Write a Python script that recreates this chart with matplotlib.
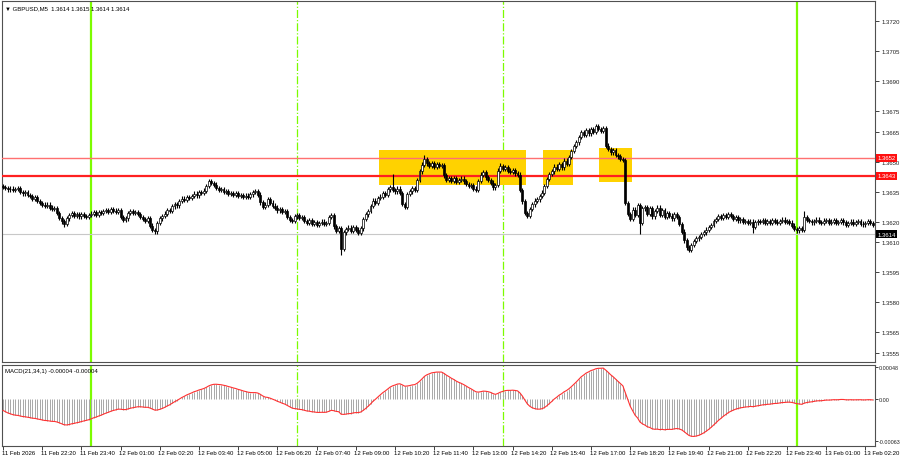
import numpy as np
import pandas as pd
import matplotlib
matplotlib.use("Agg")
import matplotlib.pyplot as plt
from matplotlib.patches import Rectangle
from datetime import datetime, timedelta

# ---------------- data ----------------
symbol_header = "\u25BC GBPUSD,M5  1.3614 1.3615 1.3614 1.3614"
macd_header = "MACD(21,34,1) -0.00004 -0.00004"
start_time = datetime(2026, 2, 11, 21, 0)
bar_minutes = 5
base_price = 1.3600
pip = 0.0001
first_open_pips = 37.8

# closes, in pips above 1.3600, one per 5-minute bar
closes_pips = [
    37.4, 36.9, 36.2, 36.6, 36.0, 36.4, 36.9,
    35.0, 34.2, 34.8, 33.5, 32.8,
    31.6, 32.2, 30.5, 29.4,
    28.6, 28.0, 28.7, 27.2, 26.4, 26.9,
    24.5, 22.0, 20.3, 19.2,
    21.8, 23.5, 24.6, 22.9, 23.8,
    22.8, 23.9, 23.0, 22.6, 23.4,
    24.2, 24.9, 23.6, 25.1, 24.5, 25.6,
    26.0, 25.2, 26.4, 25.7, 25.1, 25.9,
    22.4, 21.0, 21.8,
    24.6, 25.3, 24.4, 25.0, 24.1,
    22.6, 21.4, 20.5, 21.9,
    18.2, 16.0, 15.3,
    19.5, 21.8, 22.9, 24.2,
    26.1, 25.4, 27.8, 29.0, 28.3,
    30.4, 31.6, 30.9, 32.5, 31.8, 32.9,
    34.1, 33.2, 35.0, 34.4, 35.6,
    38.0, 40.2, 39.3, 38.6,
    37.0, 35.8, 36.4, 34.9, 35.3, 33.8, 34.5,
    33.6, 34.2, 32.8, 33.5, 32.4, 33.1, 32.6, 33.7,
    34.8, 35.4, 33.6,
    29.8, 27.4, 28.6,
    31.5, 29.6, 28.2,
    27.2, 25.8, 26.4, 24.9, 25.3,
    22.4, 21.0, 20.6,
    22.8, 23.5, 21.9, 22.6,
    20.4, 19.6, 20.9, 19.0, 19.8, 18.6, 19.4, 20.2, 18.9, 19.6,
    22.5, 23.4,
    17.8, 15.6, 16.8,
    6.5,
    14.8, 16.4, 17.2,
    15.4, 17.6, 16.2, 14.6, 16.8,
    21.5, 23.8,
    25.6, 27.9, 30.6, 29.4, 31.8, 32.6,
    34.4, 33.6, 36.2, 37.4,
    36.0,
    35.2, 36.6, 34.4,
    29.0, 27.6,
    33.8, 35.2, 36.8, 35.9,
    41.0, 45.2,
    48.6, 51.4, 49.2,
    48.0, 49.4, 47.6, 48.8, 47.9, 48.5,
    43.2, 41.0,
    42.0, 40.6, 41.8, 39.8, 40.9, 41.6, 40.2,
    39.0, 37.8, 38.4, 36.6, 36.0,
    40.4, 43.6, 44.8, 42.2,
    41.0, 39.6, 37.2, 38.4,
    45.6, 47.8,
    46.6, 47.2, 45.6, 44.8, 45.9, 44.2, 43.6,
    36.0, 30.2, 24.4,
    23.0, 26.4,
    28.8, 30.6, 31.2, 32.9, 34.6,
    37.8, 41.5, 43.8,
    45.2, 47.6, 46.4, 48.8, 47.2, 50.6, 49.0, 52.4,
    55.2, 57.8, 59.6,
    62.4, 64.8, 63.2, 65.6, 64.1, 66.4, 65.0, 67.6, 66.2, 65.4, 66.8,
    58.0, 56.4, 54.6, 55.8, 53.2, 52.6, 51.4, 50.8,
    29.5,
    24.0, 21.5, 26.2, 23.4,
    28.4, 19.5, 26.8,
    27.6, 24.2, 26.9, 22.8, 25.4, 27.2, 23.6, 25.8, 22.4, 24.6, 23.2, 21.8, 23.9, 22.4,
    19.0, 15.2, 10.8, 7.4, 6.2,
    8.6, 10.4, 11.8, 12.6, 13.9, 14.8,
    16.2, 17.4, 18.6,
    20.4, 21.6, 22.8, 21.9, 23.4, 22.6, 23.8, 22.9, 21.6, 22.4,
    20.8, 21.4, 19.9, 20.6, 19.4, 20.2,
    17.6,
    19.8, 20.6, 20.1, 21.0, 19.6, 20.4, 19.4, 20.8, 20.2, 19.5, 20.6, 21.2, 19.9, 20.4, 19.7,
    18.2, 16.6, 15.8, 16.9, 16.2,
    22.5,
    21.0, 20.4, 19.8, 20.6, 21.2, 20.0, 19.4, 20.7, 21.0, 19.6, 20.2, 20.8, 19.5, 20.1,
    20.9, 19.8, 18.6, 19.4, 20.2, 19.1, 19.9, 20.4, 19.2, 18.8, 19.6, 20.3, 19.5, 18.6,
]
# visible long wicks: bar index -> (high pips or None, low pips or None)
wick_extremes = {
    25: (None, 17.5), 62: (None, 14.0), 84: (41.5, None), 138: (None, 3.8),
    159: (43.8, None), 172: (53.3, None), 203: (49.5, None), 242: (69.0, None),
    260: (None, 14.0), 280: (None, 5.0), 306: (None, 14.5), 327: (25.5, None),
}
default_wick_pips = 1.1
# state of the EMA(21) / EMA(34) before the first visible bar (pips above first close)
ema_seed_pips = {21: 9.0, 34: 10.5}

levels_light = [1.3652]
levels_strong = [1.3643]
bid_price = 1.3614
zones = [  # (start, end, low, high)
    ("2026-02-12 09:47", "2026-02-12 14:47", 1.36384, 1.36558),
    ("2026-02-12 15:22", "2026-02-12 16:23", 1.36384, 1.36558),
    ("2026-02-12 17:16", "2026-02-12 18:24", 1.36398, 1.36568),
]
day_lines = ["2026-02-12 00:00", "2026-02-13 00:00"]
session_lines = ["2026-02-12 07:00", "2026-02-12 14:00"]
price_ticks = [1.3720, 1.3705, 1.3690, 1.3675, 1.3665, 1.3650, 1.3635,
               1.3620, 1.3610, 1.3595, 1.3580, 1.3565, 1.3555]
macd_ticks = [0.00048, 0.0, -0.00063]
macd_tick_labels = ["0.00048", "0.00", "-0.00063"]
label_every_bars = 16

# ---------------- derived ----------------
closes = base_price + np.array(closes_pips) * pip
N = len(closes)
opens = np.concatenate([[base_price + first_open_pips * pip], closes[:-1]])
highs = np.maximum(opens, closes) + default_wick_pips * pip
lows = np.minimum(opens, closes) - default_wick_pips * pip
for b, (h, l) in wick_extremes.items():
    if b < N:
        if h is not None:
            highs[b] = base_price + h * pip
        if l is not None:
            lows[b] = base_price + l * pip


def ema(values, n, seed):
    a = 2.0 / (n + 1)
    out = np.empty_like(values)
    prev = seed
    for i, v in enumerate(values):
        prev = prev + a * (v - prev)
        out[i] = prev
    return out


e21 = ema(closes, 21, closes[0] + ema_seed_pips[21] * pip)
e34 = ema(closes, 34, closes[0] + ema_seed_pips[34] * pip)
macd = e21 - e34
signal = pd.Series(macd).rolling(1).mean().values


def t2bar(ts):
    t = datetime.strptime(ts, "%Y-%m-%d %H:%M")
    return (t - start_time).total_seconds() / 60.0 / bar_minutes


# ---------------- figure ----------------
W, H = 900, 460
plt.rcParams["font.family"] = ["Liberation Sans", "DejaVu Sans"]
fig = plt.figure(figsize=(W / 100, H / 100), dpi=100)
fig.patch.set_facecolor("white")


def frac(x0, y0, x1, y1):
    return [x0 / W, 1 - y1 / H, (x1 - x0) / W, (y1 - y0) / H]


ax = fig.add_axes(frac(2, 2, 875, 363))
axm = fig.add_axes(frac(2, 366, 875, 447))

xmin = -1 / 2.45
xmax = xmin + 873 / 2.45
FS = 4.3
green = "#7CFC00"

for a in (ax, axm):
    a.set_facecolor("white")
    a.set_xlim(xmin, xmax)
    for sp in a.spines.values():
        sp.set_color("#505050")
        sp.set_linewidth(0.8)
    a.yaxis.tick_right()
    a.tick_params(axis="y", length=3, width=0.6, colors="#202020", labelsize=FS, pad=1.5)
    for d in day_lines:
        a.axvline(t2bar(d), color=green, lw=1.6, zorder=1)
    for d in session_lines:
        a.axvline(t2bar(d), color=green, lw=0.9, ls="-.", zorder=1)

# main panel
ax.set_ylim(1.35503, 1.37300)
ax.set_yticks(price_ticks)
ax.set_yticklabels([f"{v:.4f}" for v in price_ticks])
ax.set_xticks([])

for (t0, t1, lo, hi) in zones:
    b0, b1 = t2bar(t0), t2bar(t1)
    ax.add_patch(Rectangle((b0, lo), b1 - b0, hi - lo, facecolor="#FFD200",
                           edgecolor="none", zorder=2))
for lv in levels_light:
    ax.axhline(lv, color="#FF7070", lw=1.0, zorder=3)
for lv in levels_strong:
    ax.axhline(lv, color="#FF2020", lw=1.6, zorder=3)
ax.axhline(bid_price, color="#C8C8C8", lw=0.8, zorder=2)

idx = np.arange(N)
ax.vlines(idx, lows, highs, color="black", lw=0.8, zorder=4)
bw = 0.8
for i in range(N):
    o, c = opens[i], closes[i]
    lo, hi = min(o, c), max(o, c)
    if hi - lo < 0.15 * pip:
        hi = lo + 0.15 * pip
    up = c >= o
    ax.add_patch(Rectangle((i - bw / 2, lo), bw, hi - lo,
                           facecolor="white" if up else "black",
                           edgecolor="black", lw=0.5, zorder=5))

ax.text(0.004, 0.988, symbol_header, transform=ax.transAxes, fontsize=FS,
        ha="left", va="top", color="black")


def price_box(v, fc):
    ax.text(1.0025, v, f"{v:.4f}", transform=ax.get_yaxis_transform(),
            fontsize=FS, color="white", ha="left", va="center", zorder=10,
            bbox=dict(boxstyle="square,pad=0.25", facecolor=fc, edgecolor="none"),
            clip_on=False)


for lv in levels_light + levels_strong:
    price_box(lv, "#FF1010")
price_box(bid_price, "black")

# MACD panel
axm.set_ylim(-0.000705, 0.00051)
axm.vlines(idx, 0, macd, color="#A8A8A8", lw=0.7, zorder=2)
axm.plot(idx, signal, color="#FF3030", lw=0.8, zorder=3)
axm.set_yticks(macd_ticks)
axm.set_yticklabels(macd_tick_labels)
axm.tick_params(axis="y", labelsize=3.9, pad=0.5, length=2)
axm.text(0.003, 0.965, macd_header, transform=axm.transAxes, fontsize=FS,
         ha="left", va="top", color="black")

# time axis
tick_bars = list(range(0, N, label_every_bars))
axm.set_xticks(tick_bars)
axm.set_xticklabels([])
axm.tick_params(axis="x", length=3, width=0.6, colors="#202020")
for b in tick_bars:
    t = start_time + timedelta(minutes=bar_minutes * b)
    lab = t.strftime("%d %b %Y") if b == 0 else t.strftime("%d %b %H:%M")
    axm.text(b - 0.6, -0.075, lab, transform=axm.get_xaxis_transform(),
             fontsize=FS, ha="left", va="center", color="black", clip_on=False)

fig.savefig("out.png", dpi=100, facecolor="white")
